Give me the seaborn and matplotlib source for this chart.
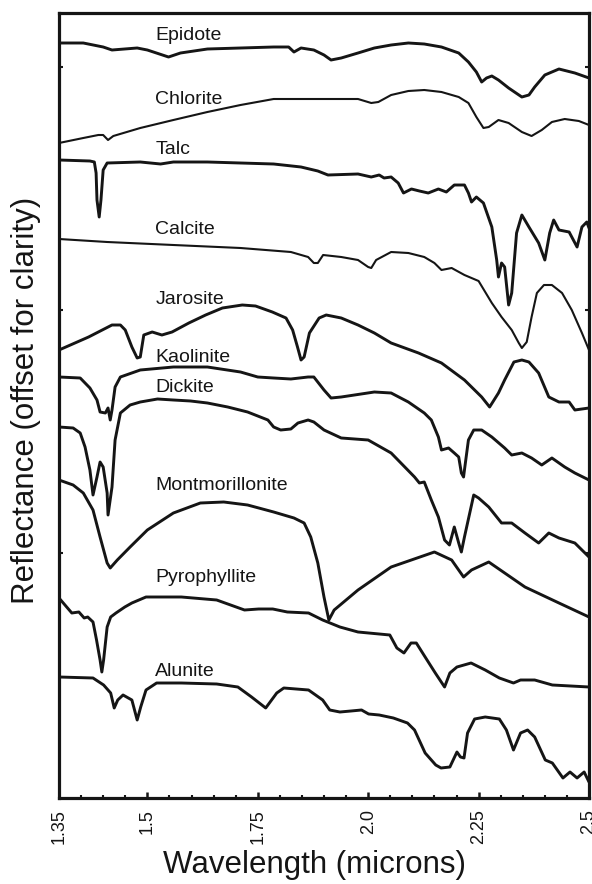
import matplotlib
matplotlib.use("Agg")
import matplotlib.pyplot as plt
import numpy as np
import pandas as pd
import seaborn as sns
from matplotlib.ticker import MultipleLocator, FixedLocator, NullFormatter

# ---- data: (wavelength in microns, offset reflectance) ----
EPIDOTE = [(1.30, 7.69), (1.355, 7.69), (1.40, 7.65), (1.42, 7.62), (1.477, 7.64), (1.50, 7.62),
           (1.548, 7.55), (1.575, 7.59), (1.636, 7.63), (1.711, 7.64), (1.786, 7.65), (1.82, 7.65),
           (1.832, 7.60), (1.848, 7.64), (1.877, 7.62), (1.90, 7.57), (1.916, 7.52), (1.939, 7.54),
           (1.977, 7.59), (2.014, 7.64), (2.052, 7.67), (2.091, 7.69), (2.127, 7.68), (2.166, 7.65),
           (2.205, 7.59), (2.227, 7.50), (2.245, 7.40), (2.257, 7.30), (2.268, 7.34), (2.28, 7.36),
           (2.295, 7.32), (2.318, 7.24), (2.348, 7.15), (2.364, 7.17), (2.377, 7.25), (2.40, 7.37),
           (2.432, 7.43), (2.468, 7.39), (2.50, 7.34)]

CHLORITE = [(1.30, 6.69), (1.355, 6.74), (1.389, 6.77), (1.40, 6.77), (1.411, 6.72), (1.423, 6.76),
            (1.484, 6.84), (1.559, 6.92), (1.636, 7.00), (1.711, 7.07), (1.786, 7.13), (1.825, 7.13),
            (1.90, 7.13), (1.977, 7.13), (2.007, 7.09), (2.023, 7.10), (2.052, 7.17), (2.091, 7.21),
            (2.127, 7.22), (2.166, 7.20), (2.205, 7.15), (2.227, 7.09), (2.245, 6.95), (2.261, 6.84),
            (2.273, 6.85), (2.295, 6.92), (2.318, 6.89), (2.348, 6.80), (2.37, 6.76), (2.393, 6.82),
            (2.416, 6.90), (2.445, 6.93), (2.477, 6.91), (2.50, 6.87)]

TALC = [(1.30, 6.52), (1.37, 6.51), (1.38, 6.50), (1.384, 6.39), (1.386, 6.12), (1.391, 5.95),
        (1.395, 6.12), (1.40, 6.42), (1.409, 6.49), (1.484, 6.50), (1.53, 6.48), (1.559, 6.50),
        (1.636, 6.50), (1.711, 6.49), (1.786, 6.48), (1.848, 6.45), (1.886, 6.41), (1.909, 6.37),
        (1.977, 6.38), (2.007, 6.35), (2.025, 6.37), (2.036, 6.34), (2.052, 6.35), (2.068, 6.29),
        (2.08, 6.19), (2.098, 6.23), (2.116, 6.21), (2.136, 6.19), (2.159, 6.23), (2.177, 6.20),
        (2.195, 6.27), (2.218, 6.27), (2.227, 6.19), (2.234, 6.10), (2.245, 6.15), (2.261, 6.09),
        (2.28, 5.85), (2.291, 5.52), (2.295, 5.35), (2.302, 5.49), (2.309, 5.45), (2.318, 5.07),
        (2.325, 5.19), (2.336, 5.79), (2.348, 5.97), (2.364, 5.85), (2.386, 5.69), (2.40, 5.52),
        (2.411, 5.79), (2.42, 5.92), (2.432, 5.82), (2.455, 5.80), (2.473, 5.65), (2.484, 5.85),
        (2.495, 5.90), (2.50, 5.84)]

CALCITE = [(1.30, 5.73), (1.409, 5.70), (1.559, 5.67), (1.711, 5.64), (1.825, 5.60), (1.864, 5.55),
           (1.877, 5.49), (1.886, 5.49), (1.898, 5.57), (1.939, 5.55), (1.977, 5.52), (2.0, 5.45),
           (2.007, 5.44), (2.018, 5.52), (2.052, 5.60), (2.091, 5.59), (2.127, 5.55), (2.15, 5.49),
           (2.166, 5.42), (2.189, 5.44), (2.218, 5.37), (2.25, 5.31), (2.28, 5.09), (2.302, 4.95),
           (2.325, 4.82), (2.341, 4.69), (2.348, 4.64), (2.359, 4.70), (2.37, 4.95), (2.382, 5.19),
           (2.398, 5.27), (2.416, 5.27), (2.439, 5.19), (2.461, 5.02), (2.484, 4.79), (2.50, 4.62)]

JAROSITE = [(1.30, 4.62), (1.367, 4.75), (1.42, 4.87), (1.439, 4.87), (1.45, 4.82), (1.465, 4.65),
            (1.477, 4.54), (1.484, 4.55), (1.492, 4.77), (1.511, 4.80), (1.533, 4.77), (1.556, 4.80),
            (1.594, 4.89), (1.632, 4.97), (1.67, 5.04), (1.715, 5.07), (1.745, 5.06), (1.783, 5.00),
            (1.814, 4.94), (1.829, 4.82), (1.84, 4.65), (1.848, 4.52), (1.855, 4.55), (1.867, 4.79),
            (1.889, 4.94), (1.905, 4.97), (1.939, 4.94), (1.977, 4.87), (2.014, 4.79), (2.052, 4.69),
            (2.114, 4.59), (2.166, 4.49), (2.218, 4.32), (2.257, 4.15), (2.275, 4.05), (2.295, 4.19),
            (2.309, 4.32), (2.33, 4.50), (2.348, 4.52), (2.364, 4.50), (2.386, 4.39), (2.409, 4.15),
            (2.432, 4.10), (2.455, 4.10), (2.468, 4.02), (2.50, 4.04)]

KAOLINITE = [(1.30, 4.35), (1.348, 4.34), (1.37, 4.24), (1.386, 4.12), (1.393, 4.00), (1.405, 3.99),
             (1.411, 4.04), (1.416, 3.92), (1.42, 4.02), (1.427, 4.25), (1.439, 4.35), (1.484, 4.42),
             (1.559, 4.45), (1.636, 4.45), (1.711, 4.40), (1.75, 4.35), (1.786, 4.34), (1.825, 4.33),
             (1.864, 4.35), (1.877, 4.35), (1.90, 4.22), (1.916, 4.14), (1.939, 4.15), (2.014, 4.20),
             (2.052, 4.19), (2.091, 4.10), (2.127, 3.99), (2.143, 3.92), (2.159, 3.75), (2.166, 3.62),
             (2.182, 3.64), (2.195, 3.59), (2.205, 3.55), (2.211, 3.39), (2.216, 3.35), (2.218, 3.42),
             (2.227, 3.72), (2.239, 3.82), (2.257, 3.82), (2.28, 3.75), (2.309, 3.64), (2.325, 3.57),
             (2.348, 3.59), (2.37, 3.54), (2.393, 3.47), (2.416, 3.54), (2.445, 3.45), (2.468, 3.39),
             (2.50, 3.32)]

DICKITE = [(1.30, 3.85), (1.332, 3.84), (1.348, 3.79), (1.359, 3.65), (1.37, 3.42), (1.377, 3.17),
           (1.386, 3.35), (1.393, 3.50), (1.40, 3.45), (1.409, 3.19), (1.411, 2.97), (1.42, 3.25),
           (1.427, 3.72), (1.439, 3.99), (1.461, 4.07), (1.484, 4.10), (1.523, 4.13), (1.559, 4.12),
           (1.598, 4.11), (1.636, 4.09), (1.682, 4.05), (1.727, 4.00), (1.773, 3.92), (1.786, 3.85),
           (1.802, 3.82), (1.825, 3.83), (1.841, 3.89), (1.864, 3.92), (1.877, 3.90), (1.90, 3.82),
           (1.939, 3.74), (2.0, 3.72), (2.052, 3.59), (2.105, 3.35), (2.116, 3.29), (2.127, 3.30),
           (2.143, 3.12), (2.159, 2.95), (2.173, 2.72), (2.184, 2.67), (2.195, 2.85), (2.205, 2.69),
           (2.211, 2.60), (2.218, 2.75), (2.239, 3.17), (2.25, 3.14), (2.273, 3.05), (2.302, 2.89),
           (2.325, 2.89), (2.355, 2.79), (2.386, 2.69), (2.409, 2.79), (2.432, 2.74), (2.468, 2.69),
           (2.50, 2.55)]

MONTMORILLONITE = [(1.30, 3.32), (1.332, 3.27), (1.355, 3.19), (1.377, 3.02), (1.393, 2.75),
                   (1.409, 2.49), (1.416, 2.44), (1.432, 2.52), (1.461, 2.65), (1.50, 2.82),
                   (1.559, 2.99), (1.62, 3.09), (1.673, 3.10), (1.727, 3.07), (1.786, 3.00),
                   (1.832, 2.94), (1.855, 2.89), (1.87, 2.75), (1.886, 2.49), (1.90, 2.15),
                   (1.911, 1.92), (1.923, 2.02), (1.977, 2.22), (2.052, 2.45), (2.15, 2.60),
                   (2.189, 2.52), (2.216, 2.35), (2.234, 2.42), (2.273, 2.50), (2.355, 2.25),
                   (2.432, 2.09), (2.50, 1.95)]

PYROPHYLLITE = [(1.30, 2.14), (1.329, 1.99), (1.345, 2.00), (1.357, 1.94), (1.365, 1.95), (1.377, 1.90),
                (1.385, 1.72), (1.393, 1.52), (1.397, 1.40), (1.401, 1.52), (1.409, 1.85), (1.417, 1.95),
                (1.429, 1.99), (1.449, 2.05), (1.465, 2.09), (1.497, 2.15), (1.577, 2.15), (1.657, 2.12),
                (1.72, 2.02), (1.752, 2.03), (1.784, 2.03), (1.817, 2.00), (1.865, 1.99), (1.897, 1.92),
                (1.936, 1.85), (1.977, 1.80), (2.049, 1.77), (2.065, 1.64), (2.081, 1.59), (2.097, 1.69),
                (2.109, 1.69), (2.129, 1.55), (2.152, 1.39), (2.173, 1.25), (2.185, 1.39), (2.201, 1.45),
                (2.233, 1.49), (2.265, 1.42), (2.297, 1.34), (2.329, 1.29), (2.345, 1.32), (2.377, 1.32),
                (2.417, 1.27), (2.50, 1.25)]

ALUNITE = [(1.30, 1.35), (1.377, 1.34), (1.401, 1.27), (1.417, 1.19), (1.425, 1.04), (1.433, 1.12),
           (1.445, 1.17), (1.465, 1.12), (1.477, 0.92), (1.485, 1.05), (1.497, 1.22), (1.521, 1.29),
           (1.577, 1.29), (1.657, 1.28), (1.705, 1.25), (1.736, 1.15), (1.768, 1.04), (1.793, 1.19),
           (1.809, 1.24), (1.865, 1.22), (1.897, 1.12), (1.913, 1.02), (1.936, 1.00), (1.961, 1.01),
           (1.985, 1.02), (2.001, 0.98), (2.025, 0.97), (2.057, 0.94), (2.089, 0.89), (2.105, 0.82),
           (2.129, 0.59), (2.153, 0.47), (2.165, 0.44), (2.185, 0.45), (2.201, 0.60), (2.209, 0.55),
           (2.217, 0.54), (2.225, 0.79), (2.241, 0.93), (2.265, 0.95), (2.297, 0.93), (2.313, 0.82),
           (2.329, 0.62), (2.345, 0.79), (2.361, 0.82), (2.377, 0.75), (2.401, 0.52), (2.417, 0.49),
           (2.441, 0.34), (2.457, 0.40), (2.473, 0.34), (2.489, 0.40), (2.50, 0.30)]

MINERALS = ["Epidote", "Chlorite", "Talc", "Calcite", "Jarosite", "Kaolinite", "Dickite",
            "Montmorillonite", "Pyrophyllite", "Alunite"]
SPECTRA = [EPIDOTE, CHLORITE, TALC, CALCITE, JAROSITE, KAOLINITE, DICKITE,
           MONTMORILLONITE, PYROPHYLLITE, ALUNITE]
LABEL_Y = [7.77, 7.12, 6.63, 5.82, 5.12, 4.55, 4.25, 3.27, 2.35, 1.40]
LABEL_X = 1.518

TICK_POS = [1.30, 1.5, 1.75, 2.0, 2.25, 2.5]
TICK_LABELS = ["1.35", "1.5", "1.75", "2.0", "2.25", "2.5"]
YTICK_POS = [2.59, 5.02, 7.45]

# ---- style ----
LINE_WIDTHS = [2.1, 1.5, 2.1, 1.5, 2.1, 2.1, 2.1, 2.1, 2.1, 2.1]
INK = "#151515"

sns.set_theme(style="ticks")
plt.rcParams["font.family"] = ["Liberation Sans", "DejaVu Sans"]

frames = []
for name, pts in zip(MINERALS, SPECTRA):
    df = pd.DataFrame(pts, columns=["wavelength", "reflectance"])
    df["mineral"] = name
    frames.append(df)
data = pd.concat(frames, ignore_index=True)

fig = plt.figure(figsize=(5.92, 8.84), dpi=100)
ax = fig.add_axes([59 / 592, 1 - 798 / 884, 530 / 592, 785 / 884])

for name, lw in zip(MINERALS, LINE_WIDTHS):
    sns.lineplot(data=data[data["mineral"] == name], x="wavelength", y="reflectance",
                 sort=False, estimator=None, color=INK, linewidth=lw, ax=ax,
                 solid_joinstyle="round", solid_capstyle="round")

for name, y in zip(MINERALS, LABEL_Y):
    ax.text(LABEL_X, y, name, fontsize=14, color=INK, ha="left", va="center")

ax.set_xlim(1.30, 2.50)
ax.set_ylim(0.14, 7.99)

ax.xaxis.set_major_locator(FixedLocator(TICK_POS))
ax.set_xticklabels(TICK_LABELS, rotation=90, fontsize=13, color=INK)
ax.xaxis.set_minor_locator(MultipleLocator(0.05))
ax.tick_params(axis="x", which="major", direction="in", length=4, width=1.8, pad=8, color=INK)
ax.tick_params(axis="x", which="minor", direction="in", length=2.5, width=1.5, color=INK)

ax.yaxis.set_major_locator(FixedLocator(YTICK_POS))
ax.yaxis.set_major_formatter(NullFormatter())
ax.tick_params(axis="y", which="major", direction="in", length=3, width=1.5,
               left=True, right=True, color=INK)

for side in ["left", "right", "top", "bottom"]:
    ax.spines[side].set_visible(True)
    ax.spines[side].set_linewidth(2.3)
    ax.spines[side].set_color(INK)

ax.set_xlabel("Wavelength (microns)", fontsize=22.5, color=INK)
ax.xaxis.set_label_coords(0.483, -0.066)
ax.set_ylabel("Reflectance (offset for clarity)", fontsize=22.5, color=INK)
ax.yaxis.set_label_coords(-0.034, 0.507)
ax.grid(False)

fig.savefig("out.png", dpi=100)
